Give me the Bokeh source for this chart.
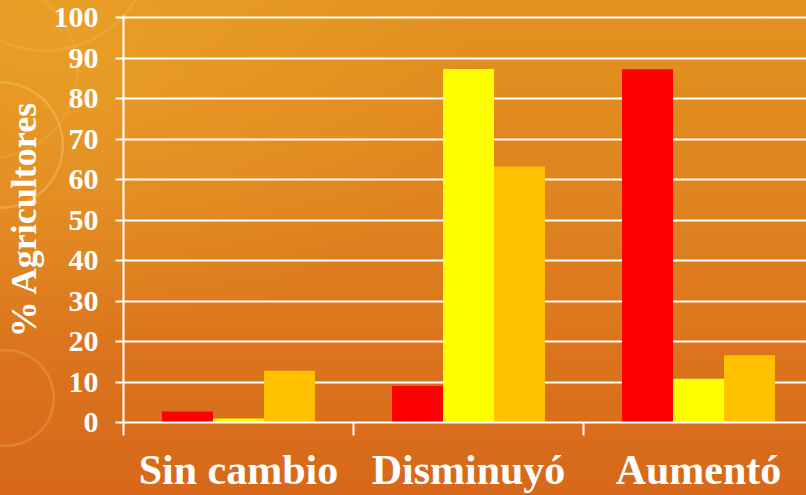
import numpy as np
from bokeh.plotting import figure
from bokeh.models import Range1d, FixedTicker
from bokeh.embed import file_html
from bokeh.resources import INLINE

# Categories and the three series (% of farmers)
categorias = ["Sin cambio", "Disminuyó", "Aumentó"]
serie_1 = [2.7, 9.0, 87.2]
serie_2 = [1.0, 87.3, 10.8]
serie_3 = [12.8, 63.2, 16.6]
y_ticks = [0, 10, 20, 30, 40, 50, 60, 70, 80, 90, 100]

colores = ["#FF0000", "#FFFF00", "#FFC000"]
series = [serie_1, serie_2, serie_3]

FONT = "Liberation Serif"
W, H = 806, 495
LEFT, TOP, BOTTOM = 123, 15, 73
CAT_PX = 230.0  # pixel width of one category slot

p = figure(
    width=W, height=H,
    output_backend="svg", toolbar_location=None,
    x_range=Range1d(0, (W - LEFT) / CAT_PX),
    y_range=Range1d(0, 100.5),
    min_border_left=LEFT, min_border_right=0,
    min_border_top=TOP, min_border_bottom=BOTTOM,
    background_fill_alpha=0, border_fill_alpha=0,
    outline_line_color=None,
)


def ring(cx, cy, r, a):
    c = f"rgba(255,235,170,{a})"
    return (f"radial-gradient(circle at {cx}px {cy}px, transparent {r - 1}px, {c} {r}px, "
            f"{c} {r + 1.5}px, transparent {r + 2.5}px)")


# Orange gradient backdrop with faint decorative rings
p.styles = {
    "background-image": ",".join([
        ring(0, 145, 62, 0.24),
        ring(6, 398, 47, 0.18),
        ring(45, -55, 105, 0.12),
        ring(-10, 70, 87, 0.1),
        "radial-gradient(ellipse 420px 300px at 60px 40px, rgba(240,170,45,0.55), rgba(240,170,45,0) 100%)",
        "linear-gradient(180deg, #E2921F 0%, #DF8420 40%, #DB721C 75%, #D7681A 100%)",
    ]),
}

n = len(categorias)
centros = np.arange(n) + 0.5
bar_w = 51.0 / CAT_PX
offsets = [-bar_w, 0.0, bar_w]

for vals, col, off in zip(series, colores, offsets):
    p.vbar(x=centros + off, top=vals, bottom=0, width=bar_w,
           fill_color=col, line_color=None)

# Horizontal grid
p.xgrid.visible = False
p.ygrid.ticker = FixedTicker(ticks=y_ticks)
p.ygrid.grid_line_color = "white"
p.ygrid.grid_line_width = 2

# Y axis
ya = p.yaxis[0]
ya.ticker = FixedTicker(ticks=y_ticks)
ya.axis_line_color = "white"
ya.axis_line_width = 2
ya.major_tick_line_color = "white"
ya.major_tick_line_width = 2
ya.major_tick_out = 8
ya.major_tick_in = 0
ya.minor_tick_line_color = None
ya.major_label_text_font = FONT
ya.major_label_text_font_style = "bold"
ya.major_label_text_font_size = "30px"
ya.major_label_text_color = "white"
ya.major_label_standoff = 17
ya.axis_label = "% Agricultores"
ya.axis_label_text_font = FONT
ya.axis_label_text_font_style = "bold"
ya.axis_label_text_font_size = "36px"
ya.axis_label_text_color = "white"
ya.axis_label_standoff = 7

# X axis: labels at category centres, boundary ticks as minor ticks
xa = p.xaxis[0]
xa.ticker = FixedTicker(ticks=list(centros), minor_ticks=list(range(n + 1)))
xa.major_label_overrides = {float(c): lab for c, lab in zip(centros, categorias)}
xa.axis_line_color = "white"
xa.axis_line_width = 2
xa.major_tick_line_color = None
xa.major_tick_out = 0
xa.major_tick_in = 0
xa.minor_tick_line_color = "white"
xa.minor_tick_line_width = 2
xa.minor_tick_out = 13
xa.minor_tick_in = 0
xa.major_label_text_font = FONT
xa.major_label_text_font_style = "bold"
xa.major_label_text_font_size = "42px"
xa.major_label_text_color = "white"
xa.major_label_standoff = 11

open("out.html", "w").write(file_html(p, INLINE))
